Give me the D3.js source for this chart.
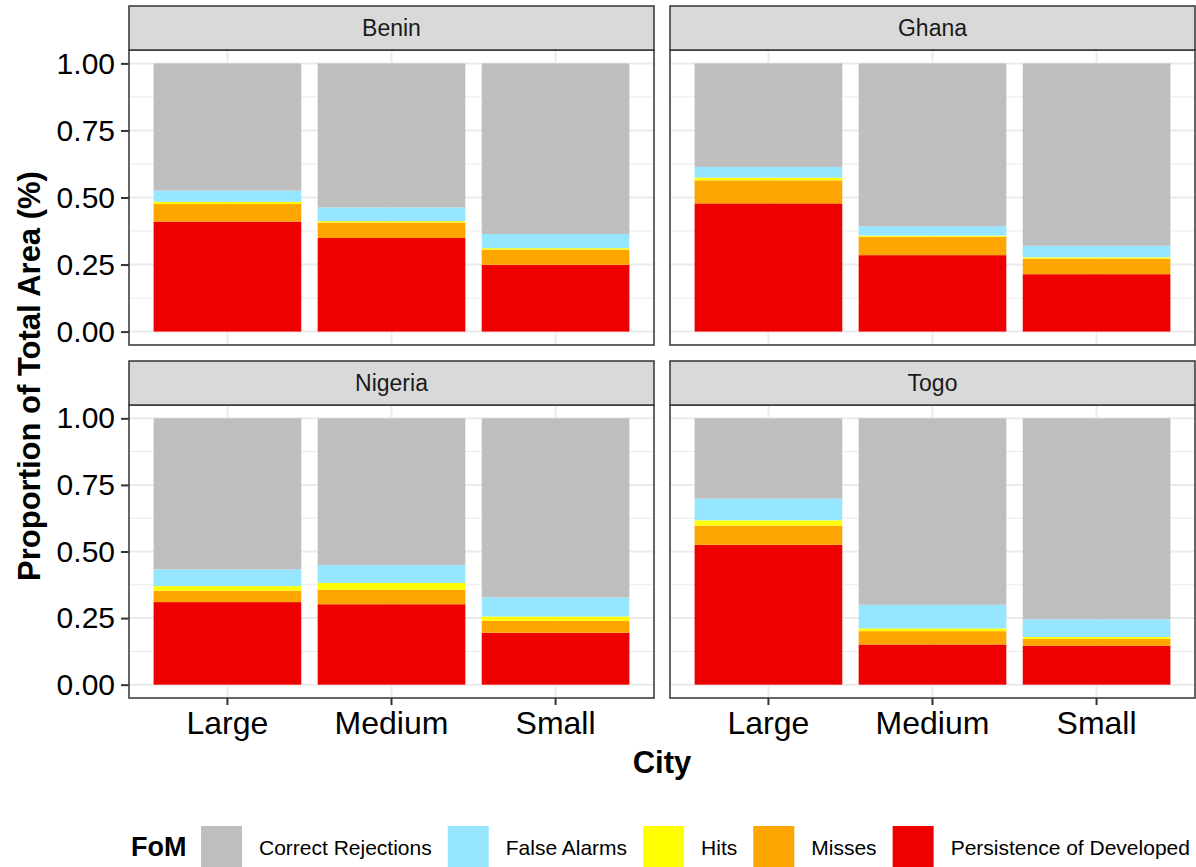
<!DOCTYPE html>
<html>
<head>
<meta charset="utf-8">
<script src="https://cdn.jsdelivr.net/npm/d3@7"></script>
<style>
  body { margin: 0; background: #fff; }
  svg { display: block; font-family: "Liberation Sans", Arial, sans-serif; }
</style>
</head>
<body>
<div id="chart"></div>
<script>
// facets and categories
const countries = ["Benin", "Ghana", "Nigeria", "Togo"];
const cities = ["Large", "Medium", "Small"];
const fomLevels = ["Correct Rejections", "False Alarms", "Hits", "Misses", "Persistence of Developed"];
const fomColors = ["#BEBEBE", "#97E6FF", "#FFFF00", "#FFA500", "#EE0000"];
const yTicks = [0, 0.25, 0.5, 0.75, 1];
const yMinor = [0.125, 0.375, 0.625, 0.875];

// values, in order Benin L/M/S, Ghana L/M/S, Nigeria L/M/S, Togo L/M/S
const persistence       = [0.410, 0.349, 0.249, 0.478, 0.285, 0.214, 0.310, 0.302, 0.195, 0.525, 0.151, 0.146];
const misses            = [0.066, 0.057, 0.057, 0.086, 0.069, 0.058, 0.043, 0.055, 0.045, 0.072, 0.050, 0.026];
const hits              = [0.008, 0.006, 0.005, 0.010, 0.004, 0.005, 0.017, 0.025, 0.016, 0.020, 0.010, 0.007];
const falseAlarms       = [0.042, 0.051, 0.053, 0.040, 0.035, 0.043, 0.063, 0.067, 0.072, 0.082, 0.089, 0.067];
const correctRejections = [0.474, 0.537, 0.636, 0.386, 0.607, 0.680, 0.567, 0.551, 0.672, 0.301, 0.700, 0.754];

const series = {
    "Correct Rejections": correctRejections,
    "False Alarms": falseAlarms,
    "Hits": hits,
    "Misses": misses,
    "Persistence of Developed": persistence
};

// build rows for d3.stack
const rows = [];
countries.forEach((c, ci) => {
    cities.forEach((city, ki) => {
        const r = { country: c, city: city };
        fomLevels.forEach(f => { r[f] = series[f][ci * 3 + ki]; });
        rows.push(r);
    });
});

// bottom to top, like ggplot's stacking
const stackOrder = fomLevels.slice().reverse();
const color = d3.scaleOrdinal().domain(fomLevels).range(fomColors);

const width = 1196, height = 867;
const svg = d3.select("#chart").append("svg")
    .attr("width", width)
    .attr("height", height);

// panel layout
const colX = [[129, 654], [670, 1195]];
const rowY = [{ strip: 6, top: 50, bottom: 345 }, { strip: 361, top: 405, bottom: 698 }];

const stacked = d3.stack().keys(stackOrder);

countries.forEach((country, i) => {
    const col = i % 2, row = Math.floor(i / 2);
    const [x0, x1] = colX[col];
    const R = rowY[row];

    const x = d3.scaleBand().domain(cities).range([x0, x1])
        .paddingInner(0.1).paddingOuter(0.15);
    const y = d3.scaleLinear().domain([-0.05, 1.05]).range([R.bottom, R.top]);

    const g = svg.append("g");

    // grid
    g.selectAll(".minor").data(yMinor).join("line")
        .attr("x1", x0).attr("x2", x1)
        .attr("y1", d => y(d)).attr("y2", d => y(d))
        .attr("stroke", "#EBEBEB").attr("stroke-width", 1);
    g.selectAll(".major").data(yTicks).join("line")
        .attr("x1", x0).attr("x2", x1)
        .attr("y1", d => y(d)).attr("y2", d => y(d))
        .attr("stroke", "#EBEBEB").attr("stroke-width", 2);
    g.selectAll(".vgrid").data(cities).join("line")
        .attr("x1", d => x(d) + x.bandwidth() / 2).attr("x2", d => x(d) + x.bandwidth() / 2)
        .attr("y1", R.top).attr("y2", R.bottom)
        .attr("stroke", "#EBEBEB").attr("stroke-width", 2);

    // bars
    const data = rows.filter(r => r.country === country);
    const layers = stacked(data);
    g.selectAll(".layer").data(layers).join("g")
        .attr("fill", d => color(d.key))
        .selectAll("rect").data(d => d).join("rect")
        .attr("x", d => x(d.data.city))
        .attr("width", x.bandwidth())
        .attr("y", d => y(d[1]))
        .attr("height", d => y(d[0]) - y(d[1]));

    // panel border
    g.append("rect")
        .attr("x", x0).attr("y", R.top)
        .attr("width", x1 - x0).attr("height", R.bottom - R.top)
        .attr("fill", "none").attr("stroke", "#333333").attr("stroke-width", 1.5);

    // strip
    g.append("rect")
        .attr("x", x0).attr("y", R.strip)
        .attr("width", x1 - x0).attr("height", R.top - R.strip)
        .attr("fill", "#D9D9D9").attr("stroke", "#333333").attr("stroke-width", 1.5);
    g.append("text")
        .attr("x", (x0 + x1) / 2).attr("y", (R.strip + R.top) / 2)
        .attr("text-anchor", "middle").attr("dominant-baseline", "central")
        .attr("font-size", 23).attr("fill", "#1A1A1A")
        .text(country);

    // y axis on left column
    if (col === 0) {
        const yAxis = g.append("g")
            .attr("transform", `translate(${x0},0)`)
            .call(d3.axisLeft(y).tickValues(yTicks).tickFormat(d3.format(".2f")).tickSize(8).tickPadding(6));
        yAxis.select(".domain").remove();
        yAxis.selectAll("line").attr("stroke", "#333333").attr("stroke-width", 2);
        yAxis.selectAll("text").attr("font-size", 30).attr("fill", "#000")
            .attr("font-family", "Liberation Sans, Arial, sans-serif");
    }
    // x axis on bottom row
    if (row === 1) {
        const xAxis = g.append("g")
            .attr("transform", `translate(0,${R.bottom})`)
            .call(d3.axisBottom(x).tickSize(7).tickPadding(6));
        xAxis.select(".domain").remove();
        xAxis.selectAll("line").attr("stroke", "#333333").attr("stroke-width", 2);
        xAxis.selectAll("text").attr("font-size", 32).attr("fill", "#000")
            .attr("font-family", "Liberation Sans, Arial, sans-serif");
    }
});

// axis titles
svg.append("text")
    .attr("transform", "translate(40,376) rotate(-90)")
    .attr("text-anchor", "middle")
    .attr("font-size", 31).attr("font-weight", "bold")
    .text("Proportion of Total Area (%)");
svg.append("text")
    .attr("x", 662).attr("y", 773)
    .attr("text-anchor", "middle")
    .attr("font-size", 31).attr("font-weight", "bold")
    .text("City");

// legend
const legend = svg.append("g").attr("transform", "translate(0,847)");
legend.append("text")
    .attr("x", 131).attr("dominant-baseline", "central")
    .attr("font-size", 27).attr("font-weight", "bold")
    .text("FoM");
let lx = 201;
fomLevels.forEach(f => {
    legend.append("rect")
        .attr("x", lx).attr("y", -21)
        .attr("width", 41).attr("height", 41)
        .attr("fill", color(f));
    const t = legend.append("text")
        .attr("x", lx + 58).attr("dominant-baseline", "central")
        .attr("font-size", 21).attr("fill", "#000")
        .text(f);
    lx = lx + 58 + t.node().getComputedTextLength() + 16;
});
</script>
</body>
</html>
